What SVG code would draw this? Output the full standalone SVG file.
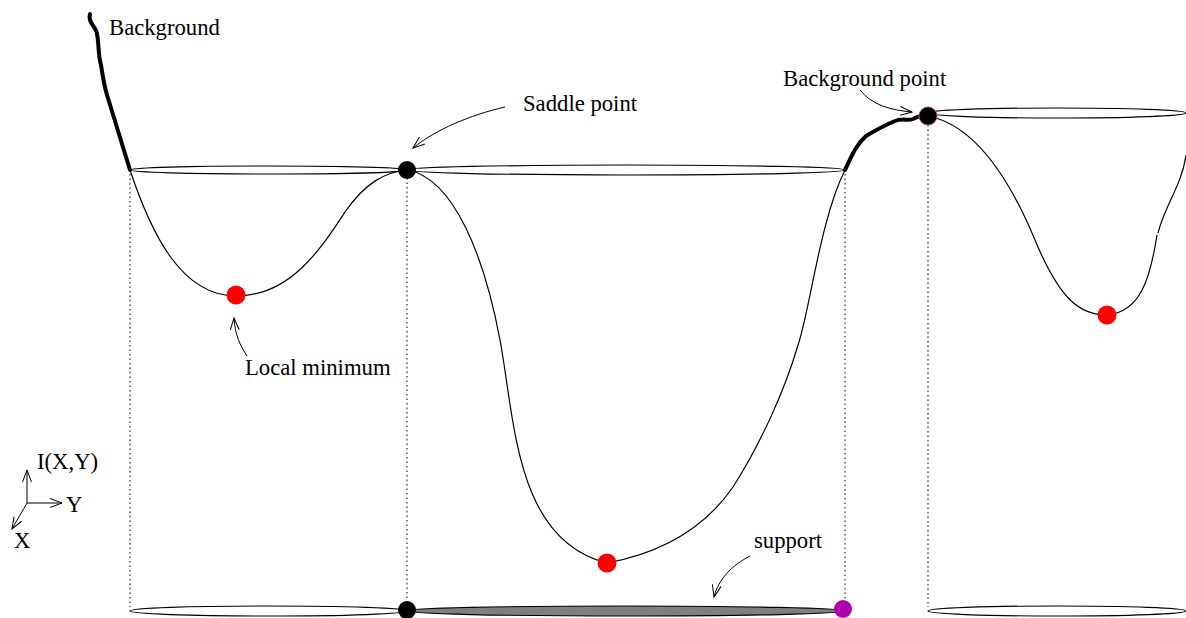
<svg xmlns="http://www.w3.org/2000/svg" width="1186" height="618" viewBox="0 0 1186 618">
<defs>
<marker id="ah" markerWidth="14" markerHeight="10" refX="12" refY="5" orient="auto" markerUnits="userSpaceOnUse">
<path d="M0,0.5 L12,5 L0,9.5" fill="none" stroke="#000" stroke-width="1"/>
</marker>
</defs>
<style>
.t{font-family:"Liberation Serif","Times New Roman",serif;font-size:22.7px;fill:#000}
.c{fill:none;stroke:#000;stroke-width:1.2}
.thick{fill:none;stroke:#000;stroke-width:4;stroke-linecap:round;stroke-linejoin:round}
.dot{fill:none;stroke:#000;stroke-width:1;stroke-dasharray:1.5,3}
.ell{fill:#fff;stroke:#000;stroke-width:1.2}
.arr{fill:none;stroke:#000;stroke-width:1;marker-end:url(#ah)}
</style>
<rect width="1186" height="618" fill="#fff"/>
<g id="guides">
<line class="dot" x1="130" y1="174" x2="130" y2="607"/>
<line class="dot" x1="407" y1="178" x2="407" y2="602"/>
<line class="dot" x1="845" y1="174" x2="845" y2="602"/>
<line class="dot" x1="928" y1="125" x2="928" y2="607"/>
</g>
<g id="top-ellipses">
<ellipse class="ell" cx="268.5" cy="170" rx="138.5" ry="4"/>
<ellipse class="ell" cx="626" cy="170" rx="219" ry="5"/>
<ellipse class="ell" cx="1057" cy="113" rx="129" ry="5"/>
</g>
<g id="bottom-ellipses">
<ellipse class="ell" cx="268.5" cy="611" rx="138.5" ry="5"/>
<ellipse cx="625" cy="611" rx="218" ry="5" fill="#808080" stroke="#000" stroke-width="1.2"/>
<ellipse class="ell" cx="1057" cy="611" rx="129" ry="5"/>
</g>
<g id="curves">
<path class="c" d="M130,170 C150,230 180,296 236,296 C290,296 320,250 345,212 C365,183 385,172 407,170"/>
<path class="c" d="M407,170 C455,178 485,260 500,340 C515,420 515,540 607,563 C650,555 700,535 733,487 C760,445 785,390 798,345 C810,310 820,220 845,170"/>
<path class="c" d="M928,116 C975,125 1010,180 1035,240 C1060,300 1080,315 1107,315 C1140,312 1150,280 1157,235 M1158,233 C1165,205 1182,185 1186,155"/>
<path class="thick" d="M90,14 C87,22 97,28 97,34 C99,44 98,55 101,65 C103,78 104,85 107,95 L130,170"/>
<path class="thick" d="M845,170 C852,155 856,145 866,136 C876,130 885,125 895,121 C902,118 908,121 913,119 C917,117 920,116 922,116"/>
</g>
<g id="connectors">
<path class="arr" d="M505,107 C470,115 435,130 413,148"/>
<path class="arr" d="M860,90 C872,105 890,110 912,112"/>
<path class="arr" d="M247,356 C240,345 235,335 234,318"/>
<path class="arr" d="M750,556 C732,565 718,580 714,597"/>
<path class="arr" d="M27,503 L27,470"/>
<path class="arr" d="M27,503 L62,503"/>
<path class="arr" d="M27,503 L12,529"/>
</g>
<g id="saddle-point"><circle cx="407" cy="170" r="9" fill="#000"/></g>
<g id="saddle-bottom"><circle cx="407" cy="610" r="9" fill="#000"/></g>
<g id="support-end"><circle cx="843" cy="609" r="9" fill="#b000b0"/></g>
<g id="background-point"><circle cx="928" cy="116" r="9" fill="#000" stroke="#a0522d" stroke-width="1"/></g>
<g id="min1"><circle cx="236" cy="295" r="9.5" fill="#f00"/></g>
<g id="min2"><circle cx="607" cy="563" r="9.5" fill="#f00"/></g>
<g id="min3"><circle cx="1107" cy="315" r="9.5" fill="#f00"/></g>
<g id="labels">
<text class="t" x="109" y="35">Background</text>
<text class="t" x="523" y="111">Saddle point</text>
<text class="t" x="783" y="86">Background point</text>
<text class="t" x="245" y="375">Local minimum</text>
<text class="t" x="754" y="548">support</text>
<text class="t" x="37" y="469">I(X,Y)</text>
<text class="t" x="66" y="512">Y</text>
<text class="t" x="14" y="548">X</text>
</g>
</svg>
